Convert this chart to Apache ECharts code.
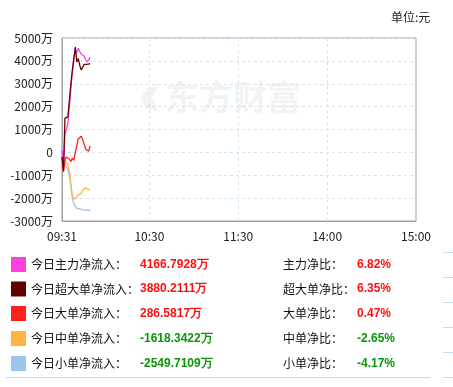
<!DOCTYPE html>
<html>
<head>
<meta charset="utf-8">
<script src="https://cdn.jsdelivr.net/npm/echarts@6/dist/echarts.min.js"></script>
<style>
html,body{margin:0;padding:0;background:#fff;}
#main{width:453px;height:387px;}
</style>
</head>
<body>
<div id="main"></div>
<script>
// ---- data (万元) ----
const tickLabels = ['09:31', '10:30', '11:30', '14:00', '15:00'];
const seriesNames = ['今日小单净流入', '今日中单净流入', '今日大单净流入', '今日主力净流入', '今日超大单净流入'];
const smallFlow  = [300, -300, -500, -650, -750, -1000, -1500, -2000, -2250, -2350, -2450, -2500, -2470, -2480, -2500, -2490, -2520, -2530, -2510, -2550];
const mediumFlow = [-100, -500, -350, -400, -550, -850, -1400, -1900, -2050, -2050, -1950, -1850, -1850, -1800, -1650, -1600, -1550, -1600, -1620, -1618];
const largeFlow  = [-200, -850, -300, -200, -250, -300, -400, -250, -350, 0, 300, 600, 650, 700, 550, 350, 150, 100, 50, 287];
const mainFlow   = [100, -600, 800, 1000, 1300, 2000, 2800, 3500, 4100, 4450, 4350, 4550, 4400, 4300, 4250, 4200, 4050, 3950, 4000, 4167];
const superFlow  = [-200, -800, 1500, 1450, 1550, 2300, 3000, 3600, 4100, 4600, 3950, 4100, 3800, 3600, 3650, 3850, 3800, 3850, 3870, 3880];

const tableLabels = ['今日主力净流入：', '今日超大单净流入：', '今日大单净流入：', '今日中单净流入：', '今日小单净流入：'];
const tableValues = ['4166.7928万', '3880.2111万', '286.5817万', '-1618.3422万', '-2549.7109万'];
const ratioLabels = ['主力净比：', '超大单净比：', '大单净比：', '中单净比：', '小单净比：'];
const ratioValues = ['6.82%', '6.35%', '0.47%', '-2.65%', '-4.17%'];
const tableColors = ['#ff40e0', '#640000', '#ff1f1f', '#ffb540', '#9cc4ec'];

// ---- time categories (trading minutes) ----
function fmt(m) { const h = Math.floor(m / 60), mm = m % 60; return (h < 10 ? '0' : '') + h + ':' + (mm < 10 ? '0' : '') + mm; }
const times = [];
for (let m = 9 * 60 + 31; m <= 11 * 60 + 30; m++) times.push(fmt(m));
for (let m = 13 * 60 + 1; m <= 15 * 60; m++) times.push(fmt(m));

const lineColors = {
  '今日小单净流入': '#9cc4ec',
  '今日中单净流入': '#ffb540',
  '今日大单净流入': '#ff1f1f',
  '今日主力净流入': '#ff40e0',
  '今日超大单净流入': '#640000'
};
const seriesData = [smallFlow, mediumFlow, largeFlow, mainFlow, superFlow];

const FONT = '"Microsoft YaHei", "Noto Sans CJK SC", sans-serif';

const chart = echarts.init(document.getElementById('main'), null, { renderer: 'canvas' });

const graphic = [
  { type: 'text', left: 391, top: 11, style: { text: '单位:元', font: '12px ' + FONT, fill: '#222' } },
  { type: 'text', left: 165, top: 80, z: -1, style: { text: '东方财富', font: 'bold 34px ' + FONT, fill: '#f3f3f3' } },
  { type: 'polygon', z: -1, shape: { points: [[147, 88], [160, 84], [152, 97], [158, 112], [146, 108], [140, 99]] }, style: { fill: '#f3f3f3' } },
  { type: 'line', shape: { x1: 6, y1: 377.5, x2: 430, y2: 377.5 }, style: { stroke: '#c5dcef', lineWidth: 1 } }
];
const rowY = [264.5, 289, 313.5, 338.5, 363.5];
[252.5, 277.5, 302.5, 327.5, 352.5, 377.5].forEach(y => {
  graphic.push({ type: 'line', shape: { x1: 443, y1: y, x2: 453, y2: y }, style: { stroke: '#c5dcef', lineWidth: 1 } });
});
for (let i = 0; i < tableLabels.length; i++) {
  const y = rowY[i];
  const col = tableValues[i].charAt(0) === '-' ? '#0a960a' : '#ff1010';
  const rcol = ratioValues[i].charAt(0) === '-' ? '#0a960a' : '#ff1010';
  graphic.push({ type: 'rect', shape: { x: 11, y: y - 7.5, width: 15, height: 15 }, style: { fill: tableColors[i] } });
  graphic.push({ type: 'text', x: 31, y: y, style: { text: tableLabels[i], font: '12px ' + FONT, fill: '#111', textVerticalAlign: 'middle', verticalAlign: 'middle' } });
  graphic.push({ type: 'text', x: 140, y: y, style: { text: tableValues[i], font: 'bold 12px Arial, "Liberation Sans", sans-serif', fill: col, textVerticalAlign: 'middle', verticalAlign: 'middle' } });
  graphic.push({ type: 'text', x: 283, y: y, style: { text: ratioLabels[i], font: '12px ' + FONT, fill: '#111', textVerticalAlign: 'middle', verticalAlign: 'middle' } });
  graphic.push({ type: 'text', x: 357, y: y, style: { text: ratioValues[i], font: 'bold 12px Arial, "Liberation Sans", sans-serif', fill: rcol, textVerticalAlign: 'middle', verticalAlign: 'middle' } });
}

chart.setOption({
  animation: false,
  backgroundColor: '#fff',
  grid: { left: 62, right: 37, top: 38, bottom: 166, show: true, borderColor: '#a0a0a0', borderWidth: 1 },
  xAxis: {
    type: 'category',
    data: times,
    boundaryGap: false,
    axisLine: { show: true, onZero: false, lineStyle: { color: '#a0a0a0' } },
    axisTick: { show: false },
    axisLabel: {
      interval: (idx, val) => tickLabels.indexOf(val) >= 0,
      color: '#222', fontSize: 12, fontFamily: FONT, margin: 9, showMaxLabel: true
    },
    splitLine: {
      show: true,
      interval: (idx, val) => tickLabels.indexOf(val) >= 0 && val !== '09:31' && val !== '15:00',
      lineStyle: { color: '#d6e4f2', type: [3, 3] }
    }
  },
  yAxis: {
    type: 'value',
    min: -3000, max: 5000, interval: 1000,
    axisLine: { show: true, onZero: false, lineStyle: { color: '#a0a0a0' } },
    axisTick: { show: false },
    axisLabel: {
      color: '#222', fontSize: 12, fontFamily: FONT, margin: 9,
      formatter: v => v === 0 ? '0' : v + '万'
    },
    splitLine: { show: true, lineStyle: { color: '#d6e4f2', type: [3, 3] } }
  },
  series: seriesNames.map((n, i) => ({
    name: n, type: 'line', data: seriesData[i], showSymbol: false, symbol: 'none',
    lineStyle: { width: 1.3, color: lineColors[n] }, itemStyle: { color: lineColors[n] }
  })),
  graphic: graphic
});
</script>
</body>
</html>
